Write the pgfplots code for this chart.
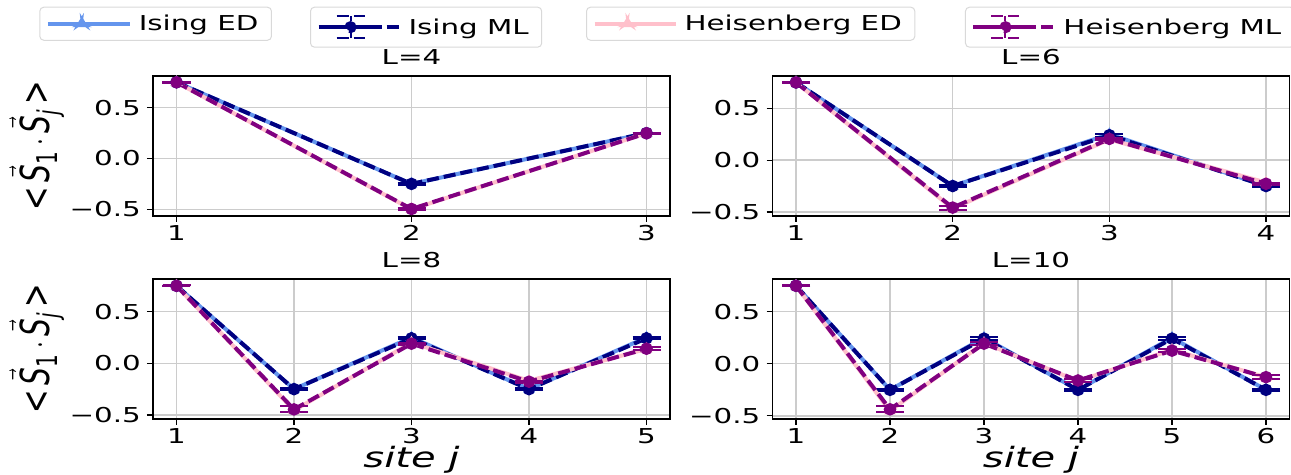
\documentclass[border=0pt]{standalone}
\usepackage{fontspec}
\setmainfont{DejaVu Sans}[FakeStretch=1.43]
\newfontfamily\plainfont{DejaVu Sans}
\usepackage{pgfplots}
\pgfplotsset{compat=1.18}

\definecolor{isingED}{RGB}{100,149,237}
\definecolor{isingML}{RGB}{0,0,128}
\definecolor{heisED}{RGB}{255,192,203}
\definecolor{heisML}{RGB}{128,0,128}

\newcommand\tickfont{\fontsize{20.5bp}{24bp}\selectfont}
\newcommand\labfont{\fontsize{28bp}{32bp}\selectfont}
\newcommand\ylab{\plainfont\labfont <\,$\vec{\hbox{\itshape S}}_{\hbox{\fontsize{20bp}{22bp}\selectfont 1}}\cdot\vec{\hbox{\itshape S}}_{\hbox{\fontsize{20bp}{22bp}\selectfont\itshape j}}$\,>}

\pgfplotsset{
  panel/.style={
    scale only axis, width=517bp, height=140bp, anchor=south west,
    axis line style={line width=1.2bp},
    grid=major, major grid style={line width=1.3bp, color=black!20},
    tick align=outside, tick pos=left, major tick length=6bp,
    tick style={line width=1.2bp, black},
    ytick={-0.5,0,0.5}, yticklabels={−0.5,0.0,0.5},
    tick label style={font=\tickfont},
    xticklabel style={anchor=north, inner sep=0pt, yshift=-3bp},
    yticklabel style={anchor=east, inner sep=0pt, xshift=-6bp},
    title style={font=\tickfont, at={(axis description cs:0.5,1)}, anchor=base, yshift=6bp},
    ylabel style={at={(axis description cs:-0.2244,0.5)}, anchor=center, yscale=1.43},
    xlabel style={font=\labfont\itshape, at={(axis description cs:0.5,-0.345)}, anchor=base},
    legend style={font=\tickfont, draw=black!15, line width=1bp, rounded corners=4bp,
      fill=white, inner xsep=6bp, inner ysep=8bp, anchor=north west,
      nodes={inner xsep=7bp, inner ysep=0pt},
      legend cell align=left},
  },
  ised/.style={isingED, line width=4bp, mark=triangle*, mark size=3bp,
    legend image code/.code={
      \path (0bp,0bp) -- (82bp,0bp);
      \draw[isingED, line width=4bp] (2bp,0bp) -- (66bp,0bp);
      \fill[isingED] (31bp,-1.5bp) -- (37bp,-1.5bp) -- (34bp,3.5bp) -- cycle;}},
  heed/.style={heisED, line width=4bp, mark=triangle*, mark size=3bp,
    legend image code/.code={
      \path (0bp,0bp) -- (81bp,0bp);
      \draw[heisED, line width=4bp] (2bp,0bp) -- (64bp,0bp);
      \fill[heisED] (30bp,-1.5bp) -- (36bp,-1.5bp) -- (33bp,3.5bp) -- cycle;}},
  ml/.style={line width=4bp, dash pattern=on 12bp off 5bp, mark=*, mark size=4.2bp,
    mark options={solid},
    error bars/y dir=both, error bars/y explicit,
    error bars/error bar style={solid, line width=2bp},
    error bars/error mark options={solid, rotate=90, mark size=14bp, line width=2bp}},
  mllegend/.style={legend image code/.code={
      \path (-5bp,0bp) -- (76bp,0bp);
      \draw[#1, line width=4bp, dash pattern=on 13bp off 6bp] (0bp,0bp) -- (58bp,0bp);
      \draw[#1, line width=2bp] (27bp,-11bp) -- (27bp,11bp);
      \draw[#1, line width=2bp] (13bp,-11bp) -- (41bp,-11bp);
      \draw[#1, line width=2bp] (13bp,11bp) -- (41bp,11bp);
      \fill[#1] (27bp,0bp) circle (4bp);}},
}

\begin{document}
\begin{tikzpicture}
\path[use as bounding box] (0,0) rectangle (1291bp,475bp);

% L=4
\begin{axis}[panel, at={(153bp,259bp)}, title={L=4},
  xmin=0.9, xmax=3.1, ymin=-0.566, ymax=0.812,
  xtick={1,2,3}, xticklabels={1,2,3}, ylabel={\ylab},
  legend style={at={(axis description cs:-0.2199,1.495)}}]
\addplot[ised] coordinates {(1,0.75) (2,-0.25) (3,0.25)};
\addlegendentry{Ising ED}
\addplot[isingML, forget plot, ml] coordinates {(1,0.75) +- (0,0.004) (2,-0.25) +- (0,0.006) (3,0.25) +- (0,0.004)};
\addplot[heed, forget plot] coordinates {(1,0.75) (2,-0.5) (3,0.25)};
\addplot[heisML, forget plot, ml] coordinates {(1,0.75) +- (0,0.004) (2,-0.497) +- (0,0.006) (3,0.248) +- (0,0.004)};
\end{axis}

% L=6
\begin{axis}[panel, at={(772.5bp,259bp)}, title={L=6},
  xmin=0.85, xmax=4.15, ymin=-0.539, ymax=0.812,
  xtick={1,2,3,4}, xticklabels={1,2,3,4},
  legend style={at={(axis description cs:-0.3607,1.495)}}]
\addplot[ised, forget plot] coordinates {(1,0.75) (2,-0.25) (3,0.25) (4,-0.25)};
\addplot[isingML, forget plot, ml] coordinates {(1,0.75) +- (0,0.004) (2,-0.25) +- (0,0.008) (3,0.24) +- (0,0.012) (4,-0.25) +- (0,0.01)};
\addplot[heed] coordinates {(1,0.75) (2,-0.467) (3,0.2) (4,-0.216)};
\addlegendentry{Heisenberg ED}
\addplot[heisML, forget plot, ml] coordinates {(1,0.75) +- (0,0.004) (2,-0.458) +- (0,0.02) (3,0.205) +- (0,0.01) (4,-0.228) +- (0,0.012)};
\end{axis}

% L=8
\begin{axis}[panel, at={(153bp,56bp)}, title={L=8},
  xmin=0.8, xmax=5.2, ymin=-0.539, ymax=0.816,
  xtick={1,...,5}, xticklabels={1,2,3,4,5}, ylabel={\ylab}, xlabel={site j},
  legend style={at={(axis description cs:0.3037,2.945)}}]
\addplot[ised, forget plot] coordinates {(1,0.75) (2,-0.25) (3,0.25) (4,-0.25) (5,0.25)};
\addplot[isingML, mllegend=isingML, ml] coordinates {(1,0.75) +- (0,0.004) (2,-0.25) +- (0,0.01) (3,0.242) +- (0,0.01) (4,-0.25) +- (0,0.01) (5,0.242) +- (0,0.01)};
\addlegendentry{Ising ML}
\addplot[heed, forget plot] coordinates {(1,0.75) (2,-0.456) (3,0.2) (4,-0.17) (5,0.14)};
\addplot[heisML, forget plot, ml] coordinates {(1,0.75) +- (0,0.004) (2,-0.446) +- (0,0.03) (3,0.19) +- (0,0.01) (4,-0.178) +- (0,0.01) (5,0.141) +- (0,0.012)};
\end{axis}

% L=10
\begin{axis}[panel, at={(772.5bp,56bp)}, title={L=10},
  xmin=0.75, xmax=6.25, ymin=-0.53, ymax=0.815,
  xtick={1,...,6}, xticklabels={1,2,3,4,5,6}, xlabel={site j},
  legend style={at={(axis description cs:0.3723,2.945)}}]
\addplot[ised, forget plot] coordinates {(1,0.75) (2,-0.25) (3,0.25) (4,-0.25) (5,0.25) (6,-0.25)};
\addplot[isingML, forget plot, ml] coordinates {(1,0.75) +- (0,0.004) (2,-0.25) +- (0,0.012) (3,0.242) +- (0,0.012) (4,-0.25) +- (0,0.012) (5,0.242) +- (0,0.012) (6,-0.25) +- (0,0.012)};
\addplot[heed, forget plot] coordinates {(1,0.75) (2,-0.4515) (3,0.2) (4,-0.165) (5,0.135) (6,-0.13)};
\addplot[heisML, mllegend=heisML, ml] coordinates {(1,0.75) +- (0,0.004) (2,-0.437) +- (0,0.03) (3,0.194) +- (0,0.012) (4,-0.16) +- (0,0.012) (5,0.127) +- (0,0.012) (6,-0.128) +- (0,0.02)};
\addlegendentry{Heisenberg ML}
\end{axis}
\end{tikzpicture}
\end{document}
